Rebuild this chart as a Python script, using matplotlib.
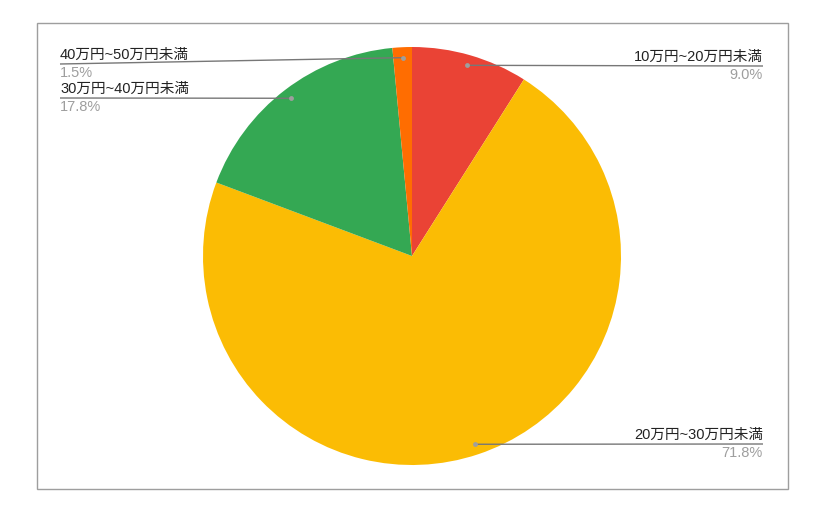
import numpy as np
import matplotlib
matplotlib.use("Agg")
import matplotlib.pyplot as plt
from matplotlib.patches import Rectangle

plt.rcParams['font.family'] = ['Liberation Sans', 'Noto Sans CJK JP', 'DejaVu Sans']

categories = ["10万円~20万円未満", "20万円~30万円未満", "30万円~40万円未満", "40万円~50万円未満"]
values = [9.0, 71.8, 17.8, 1.5]
pct_labels = ["9.0%", "71.8%", "17.8%", "1.5%"]
colors = ["#EA4335", "#FBBC04", "#34A853", "#FF6D01"]

W, H = 823, 514
fig = plt.figure(figsize=(W / 100, H / 100), dpi=100)
ax = fig.add_axes([0, 0, 1, 1])

cx, cy_img, R = 412, 256, 209
cy = H - cy_img

ax.pie(values, colors=colors, startangle=90, counterclock=False,
       center=(cx, cy), radius=R, wedgeprops=dict(linewidth=0))

ax.set_xlim(0, W)
ax.set_ylim(0, H)
ax.set_aspect('equal')
ax.axis('off')

# border
ax.add_patch(Rectangle((37, H - 489), 788 - 37, 489 - 23, fill=False,
                       edgecolor="#9e9e9e", linewidth=1))

# label layout: (side, line y in image px)
layout = [("right", 66), ("right", 444), ("left", 98), ("left", 64)]
fs = 10.5
total = sum(values)
cum = 0.0
for i, v in enumerate(values):
    mid = (cum + v / 2) / total * 360.0
    cum += v
    th = np.deg2rad(mid)
    dx = cx + 0.95 * R * np.sin(th)
    dy = cy + 0.95 * R * np.cos(th)
    side, ly_img = layout[i]
    ly = H - ly_img
    if side == "right":
        xe = 763
        ax.plot([dx, xe], [dy, ly], color="#777777", linewidth=1, solid_capstyle='butt')
        ax.text(xe, ly + 2, categories[i], ha="right", va="bottom", fontsize=fs, color="#222222")
        ax.text(xe, ly - 2, pct_labels[i], ha="right", va="top", fontsize=fs, color="#9e9e9e")
    else:
        xe = 60
        ax.plot([xe, dx], [ly, dy], color="#777777", linewidth=1, solid_capstyle='butt')
        ax.text(xe, ly + 2, categories[i], ha="left", va="bottom", fontsize=fs, color="#222222")
        ax.text(xe, ly - 2, pct_labels[i], ha="left", va="top", fontsize=fs, color="#9e9e9e")
    ax.plot([dx], [dy], marker="o", markersize=3.5, color="#9e9e9e", markeredgewidth=0)

fig.savefig("out.png", dpi=100, facecolor="white")
